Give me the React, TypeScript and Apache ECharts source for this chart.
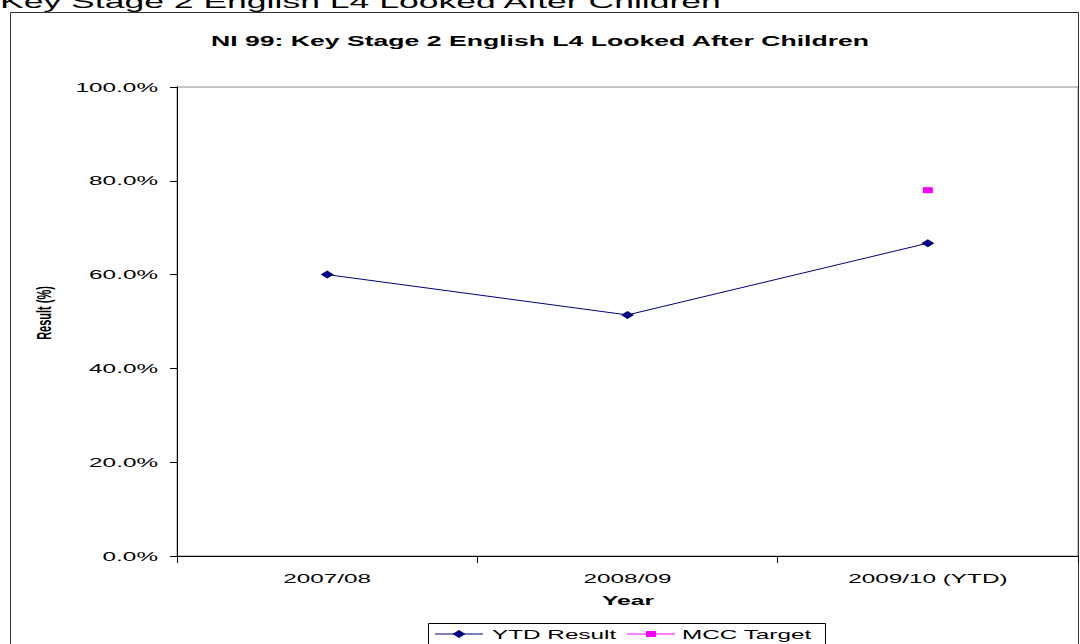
import React, { useEffect, useRef } from "react";
import * as echarts from "echarts";

const categories = ["2007/08", "2008/09", "2009/10 (YTD)"];
const ytdResult = [60.0, 51.4, 66.7];
const mccTarget: (number | null)[] = [null, null, 78.0];
const yTicks = [0, 20, 40, 60, 80, 100];
const seriesNames = ["YTD Result", "MCC Target"];
const seriesColors = ["#000080", "#ff00ff"];

const FONT = "Arial, 'Liberation Sans', sans-serif";
const SX = 1.87;

export default function App() {
  const ref = useRef<HTMLDivElement>(null);
  useEffect(() => {
    if (!ref.current) return;
    const chart = echarts.init(ref.current, undefined, { renderer: "svg" });
    chart.setOption({
      animation: false,
      backgroundColor: "#ffffff",
      textStyle: { fontFamily: FONT },
      grid: {
        left: 177,
        right: 2,
        top: 87,
        bottom: 88,
        show: true,
        borderColor: "#8a8a8a",
        borderWidth: 1,
        backgroundColor: "transparent",
      },
      xAxis: {
        type: "category",
        data: categories,
        boundaryGap: true,
        axisLine: { lineStyle: { color: "#000", width: 1 } },
        axisTick: { show: true, interval: 0, length: 7, lineStyle: { color: "#000" } },
        axisLabel: { show: false },
        splitLine: { show: false },
      },
      yAxis: {
        type: "value",
        min: yTicks[0],
        max: yTicks[yTicks.length - 1],
        interval: 20,
        axisLine: { show: true, lineStyle: { color: "#000", width: 1 } },
        axisTick: { show: true, length: 7, lineStyle: { color: "#000" } },
        axisLabel: { show: false },
        splitLine: { show: false },
      },
      series: [
        {
          name: seriesNames[0],
          type: "line",
          data: ytdResult,
          symbol: "diamond",
          symbolSize: [13, 8],
          itemStyle: { color: seriesColors[0] },
          lineStyle: { color: seriesColors[0], width: 1 },
        },
        {
          name: seriesNames[1],
          type: "line",
          data: mccTarget,
          symbol: "rect",
          symbolSize: [10, 6],
          itemStyle: { color: seriesColors[1] },
          lineStyle: { color: seriesColors[1], width: 1 },
        },
      ],
    });

    const txt = (
      text: string,
      x: number,
      y: number,
      size: number,
      opts: { bold?: boolean; align?: string; sx?: number } = {}
    ) => ({
      type: "text",
      x,
      y,
      scaleX: opts.sx ?? SX,
      silent: true,
      style: {
        text,
        font: `${opts.bold ? "bold " : ""}${size}px ${FONT}`,
        fill: "#000",
        align: opts.align ?? "center",
        verticalAlign: "middle",
      },
    });

    const graphics: any[] = [
      {
        type: "rect",
        shape: { x: 10.5, y: 12.5, width: 1068, height: 640 },
        style: { fill: "none", stroke: "#333", lineWidth: 1 },
        silent: true,
      },
      {
        type: "text",
        x: 0,
        y: 11,
        scaleX: SX,
        silent: true,
        style: {
          text: "Key Stage 2 English L4 Looked After Children",
          font: `19px ${FONT}`,
          fill: "#000",
          align: "left",
          verticalAlign: "bottom",
        },
      },
      txt("NI 99: Key Stage 2 English L4 Looked After Children", 540, 41, 14, { bold: true, sx: 1.9 }),
      txt("Year", 628, 600, 13, { bold: true, sx: 1.9 }),
      {
        type: "text",
        x: 44,
        y: 313,
        rotation: Math.PI / 2,
        scaleY: SX,
        silent: true,
        style: {
          text: "Result (%)",
          font: `bold 11px ${FONT}`,
          fill: "#000",
          align: "center",
          verticalAlign: "middle",
        },
      },
    ];

    yTicks.forEach((v) => {
      const py = chart.convertToPixel({ yAxisIndex: 0 }, v) as number;
      graphics.push(txt(v.toFixed(1) + "%", 158, py, 13, { align: "right" }));
    });
    categories.forEach((c) => {
      const px = chart.convertToPixel({ xAxisIndex: 0 }, c) as number;
      graphics.push(txt(c, px, 578, 13));
    });

    // legend
    const lx = 428.5;
    const ly = 623.5;
    graphics.push({
      type: "rect",
      shape: { x: lx, y: ly, width: 397, height: 30 },
      style: { fill: "#fff", stroke: "#000", lineWidth: 1 },
      silent: true,
    });
    const items = [
      { x0: 435, tx: 492 },
      { x0: 627, tx: 682 },
    ];
    items.forEach((it, i) => {
      const cy = 634;
      graphics.push({
        type: "line",
        shape: { x1: it.x0, y1: cy, x2: it.x0 + 48, y2: cy },
        style: { stroke: seriesColors[i], lineWidth: 1 },
        silent: true,
      });
      if (i === 0) {
        graphics.push({
          type: "polygon",
          shape: {
            points: [
              [it.x0 + 24 - 6.5, cy],
              [it.x0 + 24, cy - 4],
              [it.x0 + 24 + 6.5, cy],
              [it.x0 + 24, cy + 4],
            ],
          },
          style: { fill: seriesColors[i] },
          silent: true,
        });
      } else {
        graphics.push({
          type: "rect",
          shape: { x: it.x0 + 19, y: cy - 3, width: 10, height: 6 },
          style: { fill: seriesColors[i] },
          silent: true,
        });
      }
      graphics.push(txt(seriesNames[i], it.tx, cy, 13, { align: "left" }));
    });

    chart.setOption({ graphic: graphics });
    return () => chart.dispose();
  }, []);
  return (
    <div
      ref={ref}
      style={{ position: "fixed", left: 0, top: 0, width: 1080, height: 644, background: "#fff" }}
    />
  );
}
